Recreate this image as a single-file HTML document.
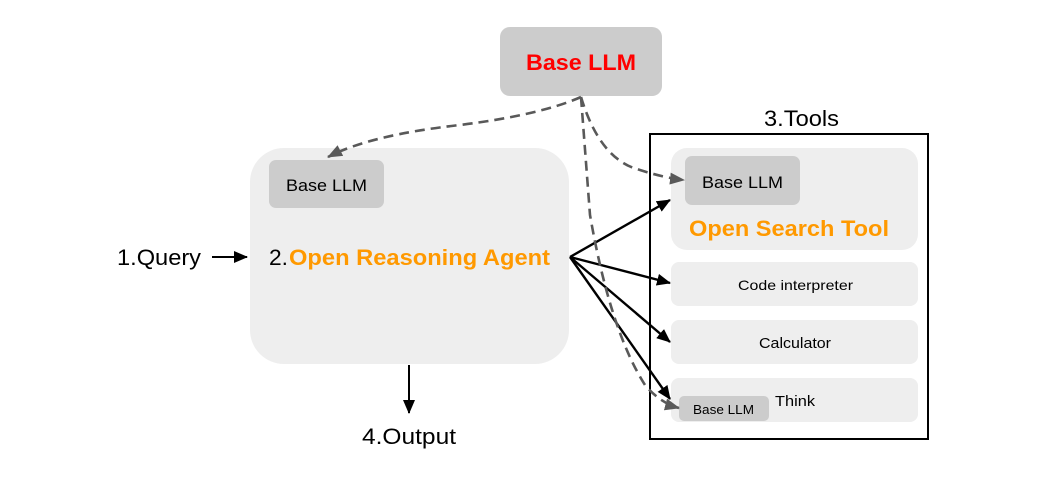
<!DOCTYPE html>
<html><head><meta charset="utf-8"><style>
html,body{margin:0;padding:0;background:#fff;}
svg{display:block;font-family:"Liberation Sans",Arial,sans-serif;}
</style></head><body>
<svg width="1046" height="478" viewBox="0 0 1046 478" xmlns="http://www.w3.org/2000/svg" font-family="Liberation Sans, Arial, sans-serif">
<defs>
<marker id="ab" markerWidth="14" markerHeight="12" refX="13" refY="6" orient="auto" markerUnits="userSpaceOnUse" viewBox="0 0 14 12"><path d="M0,0 L14,6 L0,12 z" fill="#000"/></marker>
<marker id="ag" markerWidth="15" markerHeight="12" refX="14" refY="6" orient="auto" markerUnits="userSpaceOnUse" viewBox="0 0 15 12"><path d="M0,0 L15,6 L0,12 z" fill="#595959"/></marker>
</defs>
<rect x="500" y="27" width="162" height="69" rx="10" fill="#cccccc"/>
<text x="526" y="70" textLength="110" lengthAdjust="spacingAndGlyphs" font-size="22" font-weight="bold" fill="#ff0000">Base LLM</text>
<rect x="250" y="148" width="319" height="216" rx="34" fill="#eeeeee"/>
<rect x="269" y="160" width="115" height="48" rx="7" fill="#cccccc"/>
<text x="286" y="191" textLength="81" lengthAdjust="spacingAndGlyphs" font-size="17" fill="#000">Base LLM</text>
<text x="269" y="265" font-size="22" fill="#000" textLength="19" lengthAdjust="spacingAndGlyphs">2.</text>
<text x="289" y="265" font-size="22" font-weight="bold" fill="#ff9900" textLength="261" lengthAdjust="spacingAndGlyphs">Open Reasoning Agent</text>
<text x="117" y="265" font-size="22" fill="#000" textLength="84" lengthAdjust="spacingAndGlyphs">1.Query</text>
<line x1="212" y1="257" x2="247" y2="257" stroke="#000" stroke-width="2" marker-end="url(#ab)"/>
<line x1="409" y1="365" x2="409" y2="413" stroke="#000" stroke-width="2" marker-end="url(#ab)"/>
<text x="362" y="444" font-size="22" fill="#000" textLength="94" lengthAdjust="spacingAndGlyphs">4.Output</text>
<text x="764" y="126" font-size="22" fill="#000" textLength="75" lengthAdjust="spacingAndGlyphs">3.Tools</text>
<rect x="650" y="134" width="278" height="305" fill="none" stroke="#000" stroke-width="2"/>
<rect x="671" y="148" width="247" height="102" rx="16" fill="#eeeeee"/>
<rect x="685" y="156" width="115" height="49" rx="7" fill="#cccccc"/>
<text x="702" y="188" textLength="81" lengthAdjust="spacingAndGlyphs" font-size="17" fill="#000">Base LLM</text>
<text x="689" y="236" textLength="200" lengthAdjust="spacingAndGlyphs" font-size="22" font-weight="bold" fill="#ff9900">Open Search Tool</text>
<rect x="671" y="262" width="247" height="44" rx="8" fill="#eeeeee"/>
<text x="738" y="290" textLength="115" lengthAdjust="spacingAndGlyphs" font-size="14" fill="#000">Code interpreter</text>
<rect x="671" y="320" width="247" height="44" rx="8" fill="#eeeeee"/>
<text x="759" y="348" textLength="72" lengthAdjust="spacingAndGlyphs" font-size="15" fill="#000">Calculator</text>
<rect x="671" y="378" width="247" height="44" rx="8" fill="#eeeeee"/>
<text x="775" y="406" textLength="40" lengthAdjust="spacingAndGlyphs" font-size="15" fill="#000">Think</text>
<rect x="679" y="396" width="90" height="25" rx="5" fill="#cccccc"/>
<text x="693" y="414" textLength="61" lengthAdjust="spacingAndGlyphs" font-size="13" fill="#000">Base LLM</text>
<g stroke="#000" stroke-width="2.4" fill="none">
<line x1="570" y1="257" x2="670" y2="200" marker-end="url(#ab)"/>
<line x1="570" y1="257" x2="670" y2="283" marker-end="url(#ab)"/>
<line x1="570" y1="257" x2="670" y2="342" marker-end="url(#ab)"/>
<line x1="570" y1="257" x2="670" y2="399" marker-end="url(#ab)"/>
</g>
<g stroke="#595959" stroke-width="2.6" fill="none" stroke-dasharray="10,6">
<path d="M581,97 Q540,115 460,125 Q370,135 328,157" marker-end="url(#ag)"/>
<path d="M581,97 Q600,160 640,170 Q665,178 684,180" marker-end="url(#ag)"/>
<path d="M581,97 L590,215 Q610,330 645,385 Q660,403 679,408" marker-end="url(#ag)"/>
</g>
</svg>
</body></html>
